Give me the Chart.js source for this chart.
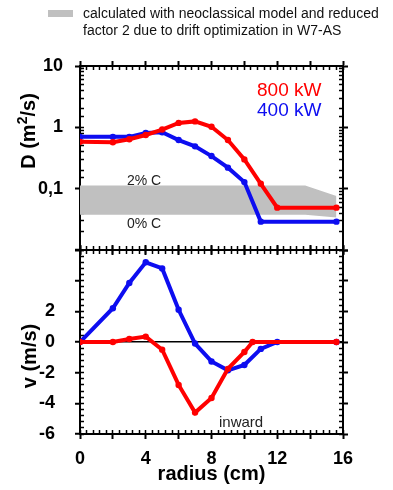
<!DOCTYPE html>
<html>

<head>
    <title>D and v profiles</title>
    <script src="https://cdn.jsdelivr.net/npm/chart.js"></script>
    <style>
        body { margin: 0; background: #fff; }
        #wrap { position: relative; width: 393px; height: 490px; overflow: hidden;
                font-family: 'Liberation Sans', Arial, Helvetica, sans-serif; color: #000; }
        canvas { position: absolute; left: 0; }
        .txt { position: absolute; white-space: nowrap; }
        .vt { position: absolute; white-space: nowrap; font-weight: bold; font-size: 20px;
              transform: translate(-50%, -50%) rotate(-90deg); }
        .vt sup { font-size: 14px; line-height: 0; vertical-align: 8px; }
    </style>
</head>

<body>
    <div id="wrap">
        <canvas id="topChart" width="393" height="260" style="top:0px"></canvas>
        <canvas id="botChart" width="393" height="245" style="top:245px"></canvas>

        <div style="position:absolute; left:48px; top:10px; width:25px; height:7px; background:#c0c0c0"></div>
        <div class="txt" style="left:83px; top:5px; font-size:14px; line-height:17px; color:#111">
            calculated with neoclassical model and reduced<br>factor 2 due to drift optimization in W7-AS</div>

        <div class="txt" style="left:257px; top:80px; font-size:19px; line-height:19px; color:#ff0000">800 kW</div>
        <div class="txt" style="left:257px; top:100px; font-size:19px; line-height:19px; color:#0d0df0">400 kW</div>
        <div class="txt" style="left:127px; top:173px; font-size:14px; line-height:14px; color:#222">2% C</div>
        <div class="txt" style="left:127px; top:216px; font-size:14px; line-height:14px; color:#222">0% C</div>
        <div class="txt" style="left:219px; top:414px; font-size:15px; line-height:15px; color:#222">inward</div>

        <div class="vt" style="left:28px; top:131px">D (m<sup>2</sup>/s)</div>
        <div class="vt" style="left:29px; top:356px">v (m/s)</div>
    </div>

    <script>
        const FONT = "'Liberation Sans', Arial, Helvetica, sans-serif";
        const RED = '#ff0000';
        const BLUE = '#0d0df0';
        const GREY = '#c0c0c0';

        // diffusion coefficient D (m^2/s), upper panel
        const rD800 = [0, 2, 3, 4, 5, 6, 7, 8, 9, 10, 11, 12, 15.6];
        const d800 = [0.58, 0.57, 0.64, 0.75, 0.92, 1.18, 1.25, 1.02, 0.62, 0.30, 0.12, 0.049, 0.049];
        const rD400 = [0, 2, 3, 4, 5, 6, 7, 8, 9, 10, 11, 15.6];
        const d400 = [0.70, 0.70, 0.70, 0.81, 0.83, 0.62, 0.49, 0.34, 0.22, 0.128, 0.029, 0.029];

        // neoclassical band (0% C .. 2% C)
        const bandR = [0, 13.7, 15.6];
        const bandHi = [0.113, 0.113, 0.076];
        const bandLo = [0.0375, 0.0375, 0.034];

        // convection velocity v (m/s), lower panel
        const rV800 = [0, 2, 3, 4, 5, 6, 7, 8, 9, 10, 10.5, 15.6];
        const v800 = [0, 0, 0.2, 0.35, -0.5, -2.8, -4.6, -3.65, -1.75, -0.65, 0, 0];
        const rV400 = [0, 2, 3, 4, 5, 6, 7, 8, 9, 10, 11, 12, 15.6];
        const v400 = [0, 2.2, 3.85, 5.2, 4.8, 2.1, -0.1, -1.27, -1.85, -1.5, -0.45, 0, 0];

        // tick labels
        const xLabels = [0, 4, 8, 12, 16];
        const dTickVals = [10, 1, 0.1];
        const dTickText = ['10', '1', '0,1'];
        const vLabels = [-6, -4, -2, 0, 2];

        function pts(xs, ys) {
            return xs.map((x, i) => ({ x: x, y: ys[i] }));
        }
        function near(a, b) { return Math.abs(a - b) < 1e-6; }
        function isEven(v) { return near(v / 2, Math.round(v / 2)); }
        function isDecade(v) { const l = Math.log10(v); return near(l, Math.round(l)); }

        // fixed box size, and no extra layout padding from the labels
        function fixSize(size) {
            return s => {
                if (s.isHorizontal()) s.height = size; else s.width = size;
                s.paddingTop = 0; s.paddingBottom = 0; s.paddingLeft = 0; s.paddingRight = 0;
            };
        }

        // an axis that only draws tick marks; inner ones point into the plot
        function tickAxis(axis, type, position, min, max, step, isMajor, inner) {
            return {
                type: type, axis: axis, position: position, min: min, max: max,
                weight: inner ? 0 : 1,
                ticks: { display: false, stepSize: step },
                grid: {
                    drawOnChartArea: false,
                    tickLength: inner ? -4 : 5,
                    tickWidth: inner ? 1.5 : 2,
                    tickColor: c => (inner || isMajor(c.tick.value)) ? '#000' : 'rgba(0,0,0,0)'
                },
                border: { display: !inner, color: '#000', width: 2 },
                afterFit: fixSize(0)
            };
        }

        function frame(yType, yMin, yMax, yStep, yMajor) {
            return {
                x: tickAxis('x', 'linear', 'bottom', 0, 16, 0.4, isEven, false),
                xIn: tickAxis('x', 'linear', 'bottom', 0, 16, 0.4, isEven, true),
                xTop: tickAxis('x', 'linear', 'top', 0, 16, 0.4, isEven, false),
                xTopIn: tickAxis('x', 'linear', 'top', 0, 16, 0.4, isEven, true),
                y: tickAxis('y', yType, 'left', yMin, yMax, yStep, yMajor, false),
                yIn: tickAxis('y', yType, 'left', yMin, yMax, yStep, yMajor, true),
                yR: tickAxis('y', yType, 'right', yMin, yMax, yStep, yMajor, false),
                yRIn: tickAxis('y', yType, 'right', yMin, yMax, yStep, yMajor, true)
            };
        }

        function lineSet(data, color) {
            return {
                data: data, borderColor: color, backgroundColor: color,
                borderWidth: 4, pointRadius: 3.2, pointBorderWidth: 0, tension: 0, fill: false
            };
        }

        const labelFont = { family: FONT, size: 18, weight: 'bold' };

        // upper panel
        const topScales = frame('logarithmic', 0.01, 10, undefined, isDecade);
        topScales.y.ticks = {
            display: true, autoSkip: false, padding: 12, color: '#000', font: labelFont,
            callback: v => {
                const i = dTickVals.findIndex(t => near(t, v));
                return i >= 0 ? dTickText[i] : '';
            }
        };
        topScales.y.afterFit = fixSize(80);

        new Chart(document.getElementById('topChart'), {
            type: 'line',
            data: {
                datasets: [
                    lineSet(pts(rD800, d800), RED),
                    lineSet(pts(rD400, d400), BLUE),
                    { data: pts(bandR, bandLo), borderWidth: 0, borderColor: 'rgba(0,0,0,0)', pointRadius: 0, fill: false },
                    { data: pts(bandR, bandHi), borderWidth: 0, borderColor: 'rgba(0,0,0,0)', pointRadius: 0,
                      fill: '-1', backgroundColor: GREY }
                ]
            },
            options: {
                responsive: false, animation: false, events: [],
                layout: { autoPadding: false, padding: { left: 0, top: 66, right: 50, bottom: 10 } },
                plugins: { legend: { display: false }, tooltip: { enabled: false } },
                scales: topScales
            }
        });

        // lower panel
        const botScales = frame('linear', -6, 6, 0.4, isEven);
        botScales.y.ticks = {
            display: true, autoSkip: false, stepSize: 0.4, padding: 20, color: '#000', font: labelFont,
            callback: v => vLabels.some(t => near(t, v)) ? String(Math.round(v)) : ''
        };
        botScales.y.grid = {
            drawOnChartArea: true, tickLength: 5, tickWidth: 2, lineWidth: 1.5,
            color: c => near(c.tick.value, 0) ? '#000' : 'rgba(0,0,0,0)',
            tickColor: c => isEven(c.tick.value) ? '#000' : 'rgba(0,0,0,0)'
        };
        botScales.y.afterFit = fixSize(80);
        botScales.x.ticks = {
            display: true, autoSkip: false, stepSize: 0.4, maxRotation: 0, padding: 9, color: '#000', font: labelFont,
            callback: v => xLabels.some(t => near(t, v)) ? String(Math.round(v)) : ''
        };
        botScales.x.title = {
            display: true, text: 'radius (cm)', color: '#000',
            font: { family: FONT, size: 20, weight: 'bold' }, padding: { top: 0, bottom: 4 }
        };
        botScales.x.afterFit = fixSize(56);

        new Chart(document.getElementById('botChart'), {
            type: 'line',
            data: {
                datasets: [
                    lineSet(pts(rV800, v800), RED),
                    lineSet(pts(rV400, v400), BLUE)
                ]
            },
            options: {
                responsive: false, animation: false, events: [],
                layout: { autoPadding: false, padding: { left: 0, top: 5, right: 50, bottom: 0 } },
                plugins: { legend: { display: false }, tooltip: { enabled: false } },
                scales: botScales
            }
        });
    </script>
</body>

</html>
